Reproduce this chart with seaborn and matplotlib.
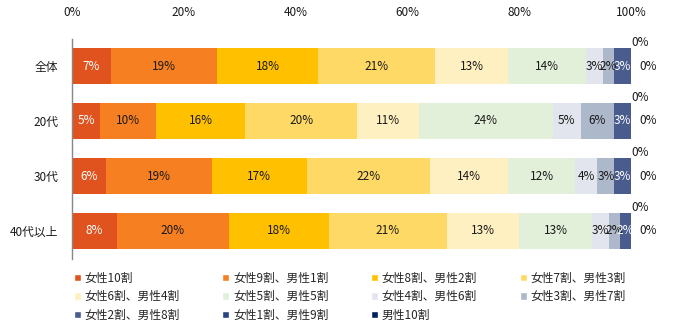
import numpy as np
import pandas as pd
import matplotlib
matplotlib.use("Agg")
import matplotlib.pyplot as plt
import seaborn as sns
from matplotlib.patches import Patch

categories = ["全体", "20代", "30代", "40代以上"]
series_names = ["女性10割", "女性9割、男性1割", "女性8割、男性2割", "女性7割、男性3割",
                "女性6割、男性4割", "女性5割、男性5割", "女性4割、男性6割", "女性3割、男性7割",
                "女性2割、男性8割", "女性1割、男性9割", "男性10割"]
values = {
    "全体":     [7, 19, 18, 21, 13, 14, 3, 2, 3, 0, 0],
    "20代":     [5, 10, 16, 20, 11, 24, 5, 6, 3, 0, 0],
    "30代":     [6, 19, 17, 22, 14, 12, 4, 3, 3, 0, 0],
    "40代以上": [8, 20, 18, 21, 13, 13, 3, 2, 2, 0, 0],
}
colors = ["#E0531F", "#F67F22", "#FFC000", "#FFD966", "#FFF0C1", "#E2F0D9",
          "#E3E5EE", "#ADB9CA", "#4A5C8E", "#2A4480", "#002060"]
white_text = {0, 8}
xticks = [0, 20, 40, 60, 80, 100]

sns.set_theme(style="white")
plt.rcParams['font.family'] = ['Noto Sans CJK JP', 'DejaVu Sans']

rows = []
for c in categories:
    cum = np.cumsum(values[c])
    for i, s in enumerate(series_names):
        rows.append({"cat": c, "series": s, "idx": i, "val": values[c][i], "cum": cum[i]})
df = pd.DataFrame(rows)

fig = plt.figure(figsize=(6.75, 3.3), dpi=100)
ax = fig.add_axes([72/675, 1 - 258.5/330, (631-72)/675, 220/330])

for i in reversed(range(len(series_names))):
    sub = df[df["idx"] == i]
    sns.barplot(data=sub, x="cum", y="cat", order=categories, orient="h",
                color=colors[i], width=0.64, saturation=1, ax=ax, linewidth=0)

for yi, c in enumerate(categories):
    sub = df[df["cat"] == c]
    zero_count = 0
    for _, r in sub.iterrows():
        i = int(r["idx"])
        if r["val"] > 0:
            ax.text(r["cum"] - r["val"] / 2, yi, f"{int(r['val'])}%", ha="center", va="center",
                    fontsize=8.5, color="white" if i in white_text else "#1a1a1a")
        else:
            if zero_count == 0:
                ax.text(101.6, yi - 0.42, "0%", ha="center", va="center", fontsize=8.5, color="#1a1a1a")
            else:
                ax.text(103.0, yi, "0%", ha="center", va="center", fontsize=8.5, color="#1a1a1a")
            zero_count += 1

ax.set_xlim(0, 100)
ax.set_ylim(len(categories) - 0.5, -0.5)
ax.xaxis.tick_top()
ax.set_xticks(xticks)
ax.set_xticklabels([f"{t}%" for t in xticks], fontsize=8.5, color="#1a1a1a")
ax.tick_params(axis="x", length=0, pad=14)
ax.tick_params(axis="y", length=0, pad=10, labelsize=8.5, labelcolor="#1a1a1a")
ax.set_xlabel("")
ax.set_ylabel("")
for s in ["top", "right", "bottom"]:
    ax.spines[s].set_visible(False)
ax.spines["left"].set_color("#888888")
ax.spines["left"].set_linewidth(1.0)

order = [0, 4, 8, 1, 5, 9, 2, 6, 10, 3, 7]
handles = [Patch(facecolor=colors[k], label=series_names[k]) for k in order]
fig.legend(handles=handles, loc="upper left", bbox_to_anchor=(68/675, 1 - 266/330),
           ncol=4, frameon=False, fontsize=8.5, handlelength=0.6, handleheight=0.6,
           handletextpad=0.3, columnspacing=3.6, labelspacing=0.45, borderpad=0)

fig.savefig("out.png", dpi=100)
